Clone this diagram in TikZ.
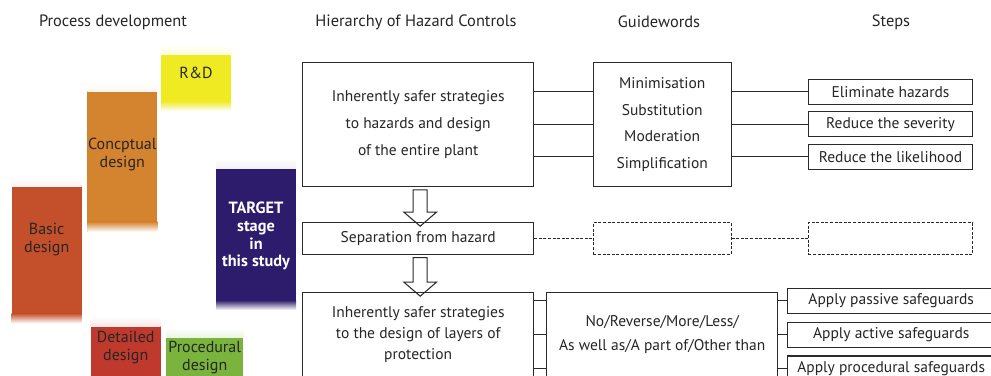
\documentclass[tikz,border=0pt]{standalone}
\usepackage{fontspec}
\setmainfont{PT Sans}
\usetikzlibrary{calc}
\definecolor{cyel}{HTML}{EFEA22}
\definecolor{corg}{HTML}{D4832E}
\definecolor{cbas}{HTML}{C4502B}
\definecolor{ctgt}{HTML}{2D1B6B}
\definecolor{cdet}{HTML}{BF3A2D}
\definecolor{cpro}{HTML}{7AB43C}
\definecolor{cline}{HTML}{2A2A2A}
\newcommand\hzarrow[2]{%
  \draw[barrow] ($(#1.south)+(-5,2.7)$) -- ($(#2.north)+(-5,-10)$) -- ($(#2.north)+(-14.3,-10)$)
    -- ($(#2.north)+(2,4)$) -- ($(#2.north)+(18.3,-10)$) -- ($(#2.north)+(9,-10)$)
    -- ($(#1.south)+(9,2.7)$) -- cycle;}
\begin{document}
\begin{tikzpicture}[x=1pt,y=-1pt,
  box/.style={draw=cline, line width=1.05pt, fill=white, align=center, inner sep=0pt,
    font=\fontsize{15.5}{26.6}\selectfont, text=black!85},
  dbox/.style={box, dash pattern=on 3pt off 1.6pt},
  conn/.style={draw=cline, line width=1.05pt},
  dconn/.style={conn, dash pattern=on 3pt off 1.6pt},
  barrow/.style={draw=cline, line width=1.05pt, line join=miter},
  hdr/.style={font=\fontsize{16.4}{19}\selectfont, text=black!85},
  bar/.style={fill=#1, draw=none, inner sep=0pt,
    path picture={
      \shade[top color=white, bottom color=#1] (path picture bounding box.north west)
        rectangle ([yshift=-10pt]path picture bounding box.north east);
      \shade[top color=#1, bottom color=white] ([yshift=10pt]path picture bounding box.south west)
        rectangle (path picture bounding box.south east);}},
  bartext/.style={align=center, font=\fontsize{16}{18.5}\selectfont, text=black!85, inner sep=0pt},
]
\fill[white] (0,0) rectangle (991,375);
\path[use as bounding box, clip] (0,0) rectangle (991,375);

% headers
\node[hdr] (h1) at (113,22) {Process development};
\node[hdr] (h2) at (416,22) {Hierarchy of Hazard Controls};
\node[hdr] (h3) at (659,22) {Guidewords};
\node[hdr] (h4) at (891,22) {Steps};

% process development bars
\node[bar=cyel, minimum width=70pt, minimum height=67pt] (rd) at (196,77.5) {};
\node[bartext] (rdt) at (196,73.3) {R\&D};
\node[bar=corg, minimum width=70pt, minimum height=150pt] (cd) at (122.3,156.7) {};
\node[bartext] (cdt) at (122.3,154.5) {Concptual\\design};
\node[bar=cbas, minimum width=70pt, minimum height=146.6pt] (bd) at (46.7,250) {};
\node[bartext] (bdt) at (46.7,239.5) {Basic\\design};
\node[bar=ctgt, minimum width=80pt, minimum height=151.7pt] (tg) at (256,234.2) {};
\node[bartext, text=white, font=\bfseries\fontsize{16.3}{17.7}\selectfont] (tgt) at (256,236) {TARGET\\stage\\in\\this study};
\node[bar=cdet, minimum width=70pt, minimum height=80pt] (dd) at (125.7,356.7) {};
\node[bartext] (ddt) at (125.7,347.5) {Detailed\\design};
\node[bar=cpro, minimum width=77.3pt, minimum height=70pt] (pd) at (204.7,362.7) {};
\node[bartext] (pdt) at (204.7,357.5) {Procedural\\design};

% row 1
\node[box, minimum width=231pt, minimum height=124.4pt] (b1) at (418.2,124.5)
  {Inherently safer strategies\\to hazards and design\\of the entire plant};
\node[box, minimum width=137.7pt, minimum height=124.4pt] (g1) at (662.2,124.5)
  {Minimisation\\Substitution\\Moderation\\Simplification};
\node[box, minimum width=164.4pt, minimum height=25pt] (s1a) at (890.5,91.8) {Eliminate hazards};
\node[box, minimum width=164.4pt, minimum height=25pt] (s1b) at (890.5,124.4) {Reduce the severity};
\node[box, minimum width=164.4pt, minimum height=25pt] (s1c) at (890.5,156.8) {Reduce the likelihood};
\foreach \s in {s1a,s1b,s1c}{
  \draw[conn] (b1.east |- \s.west) -- (g1.west |- \s.west);
  \draw[conn] (g1.east |- \s.west) -- (\s.west);
}

% row 2
\node[box, minimum width=231pt, minimum height=31.6pt] (sep) at (418.2,238.5) {Separation from hazard};
\node[dbox, minimum width=137.7pt, minimum height=31.6pt] (d1) at (662.2,238.5) {};
\node[dbox, minimum width=164.4pt, minimum height=31.6pt] (d2) at (890.5,238.5) {};
\draw[dconn] (sep.east) -- (d1.west);
\draw[dconn] (d1.east) -- (d2.west);

% row 3
\node[box, minimum width=231pt, minimum height=84pt, font=\fontsize{15.5}{21.2}\selectfont] (b3) at (418.2,334.7)
  {Inherently safer strategies\\to the design of layers of\\protection};
\node[box, minimum width=231pt, minimum height=84pt, font=\fontsize{15.5}{24.4}\selectfont] (g3) at (662.2,334.7)
  {No/Reverse/More/Less/\\As well as/A part of/Other than};
\node[box, minimum width=207.5pt, minimum height=25pt] (s3a) at (891.2,300.8) {Apply passive safeguards};
\node[box, minimum width=207.5pt, minimum height=25pt] (s3b) at (891.2,334.8) {Apply active safeguards};
\node[box, minimum width=207.5pt, minimum height=25pt] (s3c) at (891.2,368.5) {Apply procedural safeguards};
\foreach \s in {s3a,s3b,s3c}{
  \draw[conn] (b3.east |- \s.west) -- (g3.west |- \s.west);
  \draw[conn] (g3.east |- \s.west) -- (\s.west);
}

% block arrows
\hzarrow{b1}{sep}
\hzarrow{sep}{b3}
\end{tikzpicture}
\end{document}
